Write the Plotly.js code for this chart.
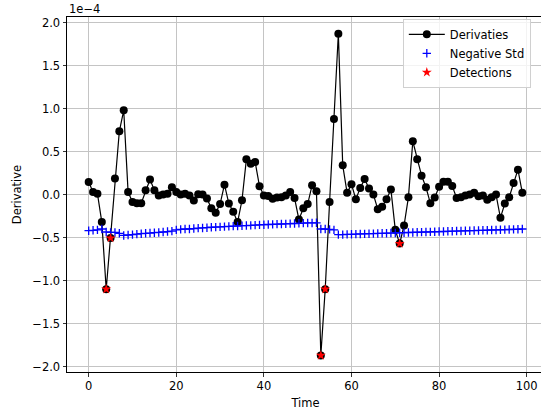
<!DOCTYPE html>
<html>
<head>
<meta charset="utf-8">
<script src="https://cdn.plot.ly/plotly-3.0.1.min.js"></script>
<style>
html,body{margin:0;padding:0;overflow:hidden;background:#fff;}
#chart{width:546px;height:417px;}
</style>
</head>
<body>
<div id="chart"></div>
<script>
// values are in units of 1e-4
const time = Array.from({length: 100}, (_, i) => i);
const derivatives = [
  0.147, 0.03, 0.01, -0.32, -1.10, -0.505, 0.186, 0.736, 0.98, 0.03,
  -0.086, -0.10, -0.10, 0.05, 0.175, 0.05, -0.01, 0.0, 0.01, 0.085,
  0.03, 0.0, 0.01, -0.01, -0.07, 0.005, 0.0, -0.045, -0.16, -0.21,
  -0.11, 0.115, -0.105, -0.20, -0.32, -0.066, 0.41, 0.36, 0.38, 0.097,
  -0.01, -0.015, -0.047, -0.035, -0.03, -0.01, 0.03, -0.04, -0.29, -0.16,
  -0.11, 0.108, 0.04, -1.87, -1.10, -0.086, 0.88, 1.87, 0.34, 0.02,
  0.12, -0.055, 0.078, 0.18, 0.07, 0.0, -0.17, -0.14, -0.055, 0.06,
  -0.41, -0.57, -0.36, -0.03, 0.62, 0.41, 0.22, 0.085, -0.10, -0.035,
  0.09, 0.15, 0.15, 0.10, -0.04, -0.03, -0.01, 0.0, 0.02, -0.02,
  -0.01, -0.06, -0.03, 0.0, -0.27, -0.105, -0.03, 0.135, 0.29, 0.02
];
const negativeStd = [
  -0.42, -0.415, -0.41, -0.40, -0.435, -0.44, -0.44, -0.45, -0.475, -0.47,
  -0.465, -0.46, -0.455, -0.45, -0.447, -0.443, -0.44, -0.435, -0.43, -0.425,
  -0.41, -0.405, -0.40, -0.40, -0.395, -0.39, -0.388, -0.385, -0.38, -0.378,
  -0.375, -0.372, -0.37, -0.367, -0.365, -0.362, -0.36, -0.358, -0.355, -0.352,
  -0.35, -0.348, -0.346, -0.344, -0.342, -0.34, -0.338, -0.336, -0.334, -0.332,
  -0.33, -0.33, -0.328, -0.40, -0.40, -0.405, -0.41, -0.465, -0.465, -0.463,
  -0.462, -0.46, -0.458, -0.457, -0.455, -0.454, -0.452, -0.45, -0.449, -0.447,
  -0.446, -0.444, -0.443, -0.441, -0.44, -0.438, -0.437, -0.435, -0.434, -0.432,
  -0.43, -0.429, -0.427, -0.426, -0.424, -0.423, -0.421, -0.42, -0.418, -0.417,
  -0.415, -0.414, -0.412, -0.411, -0.409, -0.408, -0.406, -0.405, -0.403, -0.40
];
const detectionIdx = [4, 5, 53, 54, 71];
const detectionY = detectionIdx.map(i => derivatives[i]);
const xTicks = [0, 20, 40, 60, 80, 100];
const yTicks = [2.0, 1.5, 1.0, 0.5, 0.0, -0.5, -1.0, -1.5, -2.0];
const yTickText = yTicks.map(v => (v < 0 ? '\u2212' : '') + Math.abs(v).toFixed(1));

const font = {family: 'DejaVu Sans', size: 11.5, color: '#000'};

const traces = [
  {x: time, y: derivatives, name: 'Derivaties', mode: 'lines+markers',
   line: {color: '#000', width: 1.2},
   marker: {color: '#000', size: 8, symbol: 'circle'}},
  {x: time, y: negativeStd, name: 'Negative Std', mode: 'markers',
   marker: {color: '#0000ff', size: 6, symbol: 'cross-thin', line: {color: '#0000ff', width: 1.3}}},
  {x: detectionIdx, y: detectionY, name: 'Detections', mode: 'markers',
   marker: {color: '#ff0000', size: 7.5, symbol: 'star', line: {width: 0}}}
];

const axisCommon = {
  showline: true, linecolor: '#000', linewidth: 1, mirror: true,
  ticks: 'outside', ticklen: 3.5, tickwidth: 0.8, tickcolor: '#000',
  showgrid: true, gridcolor: '#c4c4c4', gridwidth: 1, zeroline: false,
  tickfont: font
};

const layout = {
  width: 546, height: 417,
  margin: {l: 67, r: 2, t: 17, b: 45},
  paper_bgcolor: '#fff', plot_bgcolor: '#fff',
  font: font,
  xaxis: Object.assign({}, axisCommon, {
    range: [-4.95, 103.95], tickvals: xTicks, ticktext: xTicks.map(String),
    title: {text: 'Time', font: font, standoff: 6}
  }),
  yaxis: Object.assign({}, axisCommon, {
    range: [-2.063, 2.065], tickvals: yTicks, ticktext: yTickText,
    title: {text: 'Derivative', font: font, standoff: 8}
  }),
  legend: {
    x: 0.704, y: 0.995, xanchor: 'left', yanchor: 'top',
    bgcolor: 'rgba(255,255,255,0.8)', bordercolor: '#d0d0d0', borderwidth: 1,
    font: font, tracegroupgap: 0, itemwidth: 36
  },
  annotations: [{
    text: '1e\u22124', xref: 'paper', yref: 'paper', x: 0, y: 1,
    xanchor: 'left', yanchor: 'bottom', showarrow: false, font: font, yshift: -1
  }]
};

Plotly.newPlot('chart', traces, layout, {displayModeBar: false, staticPlot: true});
</script>
</body>
</html>
